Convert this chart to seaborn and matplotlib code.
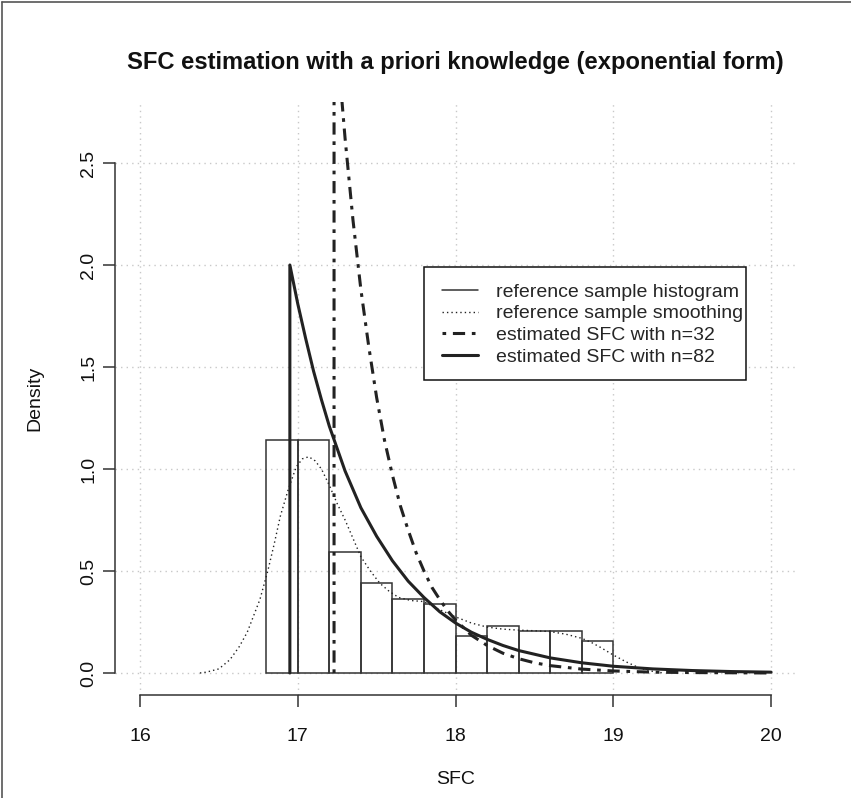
import matplotlib
matplotlib.use("Agg")
import matplotlib.pyplot as plt
from matplotlib.lines import Line2D
from matplotlib.patches import Rectangle
import seaborn as sns

# histogram of the reference sample (density per 0.2 bin)
bin_edges = [16.8, 17.0, 17.2, 17.4, 17.6, 17.8, 18.0, 18.2, 18.4, 18.6, 18.8, 19.0]
bin_density = [1.14, 1.14, 0.595, 0.44, 0.361, 0.337, 0.181, 0.232, 0.207, 0.207, 0.157]

# kernel smoothing of the reference sample
smooth_x = [16.38, 16.42, 16.50, 16.57, 16.63, 16.68, 16.72, 16.76, 16.81, 16.85, 16.89,
            16.94, 16.99, 17.03, 17.07, 17.11, 17.15, 17.20, 17.25, 17.30, 17.35, 17.40,
            17.46, 17.52, 17.58, 17.64, 17.72, 17.80, 17.90, 18.00, 18.10, 18.20, 18.30,
            18.40, 18.50, 18.60, 18.70, 18.80, 18.86, 18.92, 19.00, 19.08, 19.17, 19.25, 19.32]
smooth_y = [0.0, 0.004, 0.02, 0.065, 0.13, 0.20, 0.28, 0.36, 0.50, 0.63, 0.77,
            0.90, 1.01, 1.05, 1.06, 1.04, 1.00, 0.92, 0.83, 0.75, 0.66, 0.57,
            0.50, 0.44, 0.40, 0.37, 0.355, 0.35, 0.31, 0.275, 0.245, 0.225, 0.215,
            0.21, 0.207, 0.203, 0.19, 0.17, 0.15, 0.125, 0.088, 0.055, 0.023, 0.008, 0.0]

# estimated SFC, n=32 (dash-dot)
n32_x = [17.23, 17.23, 17.25, 17.30, 17.35, 17.40, 17.45, 17.50, 17.55, 17.60, 17.65,
         17.70, 17.75, 17.80, 17.85, 17.90, 17.95, 18.00, 18.10, 18.20, 18.30, 18.40,
         18.50, 18.60, 18.80, 19.00, 19.25, 19.50, 20.00]
n32_y = [0.0, 3.30, 3.08, 2.62, 2.22, 1.88, 1.60, 1.35, 1.14, 0.97, 0.82,
         0.70, 0.59, 0.50, 0.42, 0.36, 0.305, 0.26, 0.185, 0.135, 0.097, 0.070,
         0.050, 0.036, 0.019, 0.010, 0.004, 0.002, 0.0]

# estimated SFC, n=82 (thick solid)
n82_x = [16.95, 16.95, 17.00, 17.05, 17.10, 17.15, 17.20, 17.25, 17.30, 17.35, 17.40,
         17.50, 17.60, 17.70, 17.80, 17.90, 18.00, 18.10, 18.20, 18.30, 18.40, 18.60,
         18.80, 19.00, 19.25, 19.50, 19.75, 20.00]
n82_y = [0.0, 2.00, 1.81, 1.64, 1.48, 1.34, 1.21, 1.10, 0.99, 0.90, 0.81,
         0.67, 0.55, 0.45, 0.37, 0.30, 0.245, 0.20, 0.165, 0.135, 0.11, 0.074,
         0.05, 0.033, 0.020, 0.012, 0.007, 0.004]

x_ticks = [16, 17, 18, 19, 20]
y_ticks = [0.0, 0.5, 1.0, 1.5, 2.0, 2.5]

sns.set_style("white")
plt.rcParams['font.family'] = ['Liberation Sans', 'DejaVu Sans']

ink = "#222222"
edge = "#333333"
fs = 14
fig = plt.figure(figsize=(8.51, 7.98), dpi=100)
ax = fig.add_axes([0.1351, 0.1291, 0.8003, 0.7431])

# grid like R's grid()
for xv in x_ticks:
    ax.axvline(xv, color="#c8c8c8", lw=1, ls=(0, (1, 3)), zorder=0)
for yv in y_ticks:
    ax.axhline(yv, color="#c8c8c8", lw=1, ls=(0, (1, 3)), zorder=0)

mids = [(a + b) / 2 for a, b in zip(bin_edges[:-1], bin_edges[1:])]
sns.histplot(x=mids, weights=bin_density, bins=bin_edges, stat="count", fill=False,
             element="bars", color=edge, edgecolor=edge, linewidth=1.1, ax=ax)

sns.lineplot(x=smooth_x, y=smooth_y, sort=False, estimator=None, ax=ax,
             color=ink, lw=1.0, linestyle=(0, (1, 2.2)))
sns.lineplot(x=n32_x, y=n32_y, sort=False, estimator=None, ax=ax,
             color=ink, lw=2.2, linestyle=(0, (1.2, 2.2, 4, 2.2)))
sns.lineplot(x=n82_x, y=n82_y, sort=False, estimator=None, ax=ax,
             color=ink, lw=2.2)

ax.set_xlim(15.8415, 20.158)
ax.set_ylim(-0.1078, 2.799)
ax.set_xticks(x_ticks)
ax.set_xticklabels([str(v) for v in x_ticks])
ax.set_yticks(y_ticks)
ax.set_yticklabels([f"{v:.1f}" for v in y_ticks], rotation=90, va="center")
ax.set_xlabel("")
ax.set_ylabel("")
for s in ["top", "right"]:
    ax.spines[s].set_visible(False)
ax.spines["bottom"].set_bounds(16, 20)
ax.spines["left"].set_bounds(0, 2.5)
for s in ["bottom", "left"]:
    ax.spines[s].set_color(edge)
    ax.spines[s].set_linewidth(1.1)
ax.tick_params(axis="both", direction="out", length=8.6, width=1.1, color=edge,
               labelsize=fs, labelcolor="#111111", bottom=True, left=True)
ax.tick_params(axis="x", pad=15)
ax.tick_params(axis="y", pad=4)

# legend: box drawn separately (R-style tight right margin)
ax.add_patch(Rectangle((0.4537, 0.5312), 0.4729, 0.1906, transform=ax.transAxes,
                       facecolor="white", edgecolor="#111111", lw=1.1, zorder=4))
handles = [
    Line2D([], [], color=edge, lw=1.1),
    Line2D([], [], color=ink, lw=1.0, ls=(0, (1, 2.2))),
    Line2D([], [], color=ink, lw=2.2, ls=(0, (1.2, 2.2, 4, 2.2))),
    Line2D([], [], color=ink, lw=2.2),
]
labels = ["reference sample histogram", "reference sample smoothing",
          "estimated SFC with n=32", "estimated SFC with n=82"]
leg = ax.legend(handles, labels, loc="upper left", bbox_to_anchor=(0.4802, 0.6945),
                borderaxespad=0, borderpad=0, fontsize=fs, frameon=False,
                handlelength=1.85, handletextpad=0.93, labelspacing=0.21)
leg.set_zorder(5)

fig.text(0.5352, 1 - 62 / 798, "SFC estimation with a priori knowledge (exponential form)",
         ha="center", va="center", fontsize=17.1, fontweight="bold", color="#111111")
fig.text(0.5352, 1 - 779 / 798, "SFC", ha="center", va="center", fontsize=fs, color="#111111")
fig.text(35 / 851, 1 - 398 / 798, "Density", ha="center", va="center", rotation=90,
         fontsize=fs, color="#111111")

# outer frame on left and top edges
fig.add_artist(Line2D([2 / 851, 2 / 851], [0, 1 - 2 / 798], color="#555555", lw=1.2))
fig.add_artist(Line2D([2 / 851, 1], [1 - 2 / 798, 1 - 2 / 798], color="#555555", lw=1.2))

fig.savefig("out.png", dpi=100)
